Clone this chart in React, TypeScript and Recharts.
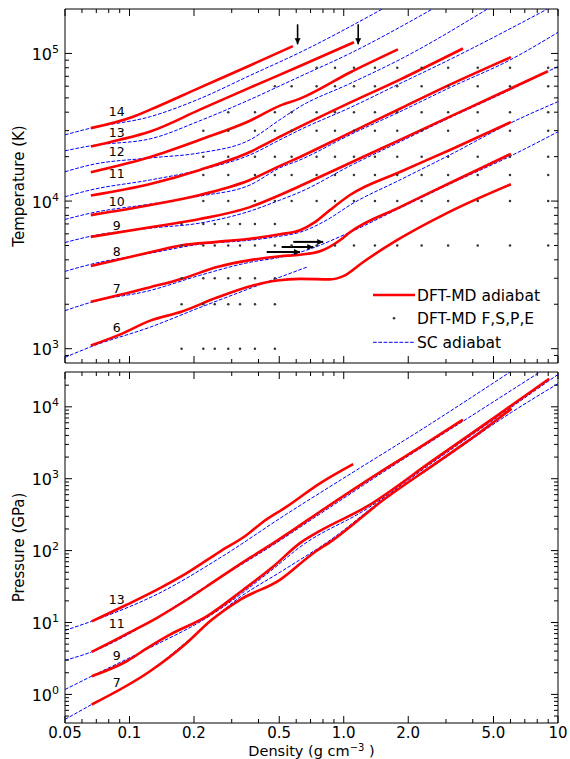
import React from "react";
import { ComposedChart, Line, Scatter, XAxis, YAxis, ReferenceArea } from "recharts";

type Pt = [number, number];
const FONT = "DejaVu Sans, sans-serif";
const RED = "#ff0000";
const BLUE = "#0000ff";

// ---------- Top panel: temperature (K) vs density (g/cc) ----------
const dftT6: Pt[] = [[0.066,1050],[0.09,1245],[0.125,1550],[0.176,1785],[0.256,2220],[0.377,2680],[0.488,2900],[0.625,2970],[0.862,2950],[1.013,3140],[1.229,3850],[1.771,5430],[3.03,8290],[6.03,13000]];
const dftT7: Pt[] = [[0.066,2080],[0.125,2610],[0.176,2980],[0.256,3570],[0.377,4010],[0.504,4230],[0.625,4330],[0.774,4570],[0.96,5430],[1.069,6150],[1.829,9100],[3.13,13260],[6.03,20900]];
const dftT8: Pt[] = [[0.066,3630],[0.125,4500],[0.176,5020],[0.256,5290],[0.365,5560],[0.504,5960],[0.625,6350],[0.734,7200],[0.862,8690],[1.069,11000],[1.829,15750],[3.13,22200],[6.03,34300]];
const dftT9: Pt[] = [[0.066,5720],[0.125,6650],[0.213,7550],[0.365,9100],[0.504,11000],[0.625,12650],[1.069,18100],[1.829,26000],[3.13,37300],[5.36,53500],[8.97,75800]];
const dftT10: Pt[] = [[0.066,8030],[0.125,9400],[0.213,10990],[0.365,13900],[0.504,17300],[0.625,19900],[1.069,29000],[1.829,42200],[3.13,61500],[6.03,94400]];
const dftT11: Pt[] = [[0.066,10900],[0.125,13050],[0.213,16250],[0.365,21500],[0.504,27300],[0.625,31900],[1.069,46400],[1.829,66500],[3.6,108000]];
const dftT12: Pt[] = [[0.066,15700],[0.125,19900],[0.213,26000],[0.365,35000],[0.504,44300],[0.625,49400],[1.069,74300],[1.79,106500]];
const dftT13: Pt[] = [[0.066,23400],[0.09,26000],[0.125,29600],[0.213,41600],[0.365,58700],[0.625,82200],[1.116,119000]];
const dftT14: Pt[] = [[0.066,31200],[0.104,37300],[0.125,41600],[0.213,58700],[0.365,82900],[0.579,112000]];

const scT6: Pt[] = [[0.05,873],[0.066,1030],[0.125,1400],[0.213,1900],[0.365,2560],[0.673,3570]];
const scT7: Pt[] = [[0.05,1810],[0.066,2060],[0.125,2480],[0.213,3140],[0.365,3850],[0.504,4160],[0.625,4500],[1.069,6150],[1.829,8960],[3.13,13050],[6.03,20240],[10,29470]];
const scT8: Pt[] = [[0.05,3340],[0.066,3730],[0.125,4430],[0.213,5100],[0.365,5430],[0.504,5780],[0.625,6150],[0.862,7660],[1.069,9390],[1.829,13900],[3.13,20550],[6.03,33900],[10,47150]];
const scT9: Pt[] = [[0.05,5240],[0.066,5780],[0.125,6550],[0.213,7090],[0.365,8550],[0.504,10160],[0.625,11500],[1.069,17300],[1.829,25200],[3.13,36700],[5.36,52600],[10,81600]];
const scT10: Pt[] = [[0.05,7510],[0.066,8290],[0.125,9540],[0.213,10800],[0.365,12850],[0.504,16800],[0.625,19000],[1.069,28100],[1.829,40300],[3.13,58700],[6.03,91000],[10,139000]];
const scT11: Pt[] = [[0.05,10700],[0.066,11900],[0.125,13900],[0.213,16250],[0.365,20550],[0.504,26000],[0.625,30400],[1.069,42900],[1.829,62500],[3.13,91000],[8.88,199000]];
const scT12: Pt[] = [[0.05,15800],[0.066,17600],[0.125,19600],[0.213,21200],[0.365,26000],[0.504,35600],[0.625,43600],[1.069,62500],[1.829,91000],[4.66,199000]];
const scT13: Pt[] = [[0.05,21900],[0.066,23700],[0.125,26400],[0.213,35000],[0.365,48700],[0.625,69800],[1.069,100000],[2.61,201000]];
const scT14: Pt[] = [[0.05,28100],[0.066,31200],[0.125,37300],[0.213,49400],[0.365,70900],[0.625,101600],[1.524,201000]];

// DFT-MD simulation grid (density per temperature row)
const rhoLow = [0.175, 0.221, 0.25, 0.289, 0.328, 0.385, 0.477];
const rhoMid = [0.221, 0.289, 0.385, 0.477, 0.571, 0.747, 0.91, 1.116, 1.398, 1.777, 2.31, 3.07, 4.22, 5.97, 9.0];
const rhoAll = [0.175, 0.221, 0.25, 0.289, 0.328, 0.385, 0.477, 0.571, 0.747, 0.91, 1.116, 1.398, 1.777, 2.31, 3.07, 4.22, 5.97, 9.0];
const rho40k = [0.289, 0.385, 0.477, 0.571, 0.747, 0.91, 1.116, 1.398, 1.777, 2.31, 3.07, 4.22, 5.97, 9.0];
const rho60k = [0.477, 0.571, 0.747, 0.91, 1.116, 1.398, 1.777, 2.31, 3.07, 4.22, 5.97, 9.0];
const rho80k = [0.747, 0.91, 1.116, 1.398, 1.777, 2.31, 3.07, 4.22, 5.97, 9.0];
const gridRows: [number, number[]][] = [
  [1000, rhoLow], [2000, rhoLow], [3000, rhoLow], [5000, rhoAll], [7000, rhoLow],
  [10000, rhoMid], [15000, rhoMid], [20000, rhoMid], [30000, rhoMid],
  [40000, rho40k], [60000, rho60k], [80000, rho80k],
];

const arrowDown1: Pt[] = [[0.609,157500],[0.609,115200]];
const arrowDown2: Pt[] = [[1.168,157500],[1.168,115200]];
const arrowRight1: Pt[] = [[0.437,4520],[0.625,4520]];
const arrowRight2: Pt[] = [[0.513,4890],[0.721,4890]];
const arrowRight3: Pt[] = [[0.581,5290],[0.802,5290]];

const labelsTop = ["14","13","12","11","10","9","8","7","6"];
const labelsTopT = [40500,29150,21640,15430,9890,6866,4520,2548,1396];
const labelRho = 0.0871;

// ---------- Bottom panel: pressure (GPa) vs density ----------
const dftP7: Pt[] = [[0.0666,0.724],[0.1246,2.1],[0.1849,5.2],[0.2374,10.4],[0.3278,20.7],[0.5039,39.2],[0.7206,92],[0.8933,141],[1.529,505],[2.616,1544],[3.745,3250],[6.07,9440]];
const dftP9: Pt[] = [[0.0666,1.79],[0.097,2.89],[0.1246,4.66],[0.1545,6.77],[0.2292,12.15],[0.3396,28.5],[0.4688,60],[0.6246,127],[0.7742,188],[1.279,408],[2.616,1811],[5.357,8050],[9.1,24600]];
const dftP11: Pt[] = [[0.0666,3.9],[0.1024,7.53],[0.1339,11.54],[0.1849,20.7],[0.2292,31.7],[0.3522,74.3],[0.4688,127],[0.5811,194],[0.7742,347],[1.529,1316],[2.35,2924],[3.6,6645]];
const dftP13: Pt[] = [[0.0666,10.36],[0.097,17.65],[0.1388,30.1],[0.1849,48.6],[0.2644,96.9],[0.3522,165],[0.4209,252],[0.5415,408],[0.7742,861],[1.107,1594]];

const scP7: Pt[] = [[0.05,0.449],[0.0666,0.724],[0.1246,2.1],[0.1849,5.4],[0.3278,22.5],[0.5039,50],[0.8933,150],[1.529,520],[2.616,1500],[6.074,8400],[10,21000]];
const scP9: Pt[] = [[0.05,1.17],[0.0666,1.79],[0.1246,4.46],[0.2292,11.6],[0.4688,55.7],[0.6246,112],[1.279,379],[2.616,1700],[5.357,7620],[10,28200]];
const scP11: Pt[] = [[0.05,2.98],[0.0666,3.9],[0.1339,11.6],[0.2292,32.4],[0.4688,120],[0.7742,323],[1.529,1234],[3.6,6290],[8.23,30400]];
const scP13: Pt[] = [[0.05,7.77],[0.0666,10.4],[0.1388,25.9],[0.2644,79.2],[0.5415,323],[1.107,1234],[2.524,5720],[5.965,30400]];

const labelsBot = ["13","11","9","7"];
const labelsBotP = [21.2,9.84,3.46,1.448];

// ---------- Axes ----------
const xMajor = [0.05, 0.1, 0.2, 0.5, 1, 2, 5, 10];
const xMajorText = ["0.05", "0.1", "0.2", "0.5", "1.0", "2.0", "5.0", "10"];
const xMinor = [0.06, 0.07, 0.08, 0.09, 0.3, 0.4, 0.6, 0.7, 0.8, 0.9, 3, 4, 6, 7, 8, 9];
const tMajor = [1e3, 1e4, 1e5];
const tMinor = [900, 2000, 3000, 4000, 5000, 6000, 7000, 8000, 9000, 20000, 30000, 40000, 50000, 60000, 70000, 80000, 90000];
const pMajor = [1, 10, 100, 1000, 10000];
const pMinor = [0.5, 0.6, 0.7, 0.8, 0.9, 2, 3, 4, 5, 6, 7, 8, 9, 20, 30, 40, 50, 60, 70, 80, 90, 200, 300, 400, 500, 600, 700, 800, 900, 2000, 3000, 4000, 5000, 6000, 7000, 8000, 9000, 20000];
const xDomain: [number, number] = [0.05, 10];
const tDomain: [number, number] = [800, 2e5];
const pDomain: [number, number] = [0.4, 3.05e4];

const PLOT_W = 493;
const TOP_PLOT_H = 354;
const BOT_PLOT_H = 351;

const toXY = (pts: Pt[]) => pts.map(([x, y]) => ({ x, y }));
const near = (a: number, b: number) => Math.abs(a - b) / b < 1e-6;

const makeXTick = (plotH: number, labels: boolean) => (props: any) => {
  const { x, y, payload } = props;
  const i = xMajor.findIndex((m) => near(payload.value, m));
  const len = i >= 0 ? 7 : 4;
  return (
    <g>
      <line x1={x} x2={x} y1={y} y2={y - len} stroke="#000" strokeWidth={1} />
      <line x1={x} x2={x} y1={y - plotH} y2={y - plotH + len} stroke="#000" strokeWidth={1} />
      {labels && i >= 0 ? (
        <text x={x} y={y + 14.5} textAnchor="middle" fontSize={15} fontFamily={FONT} fill="#000">
          {xMajorText[i]}
        </text>
      ) : null}
    </g>
  );
};

const makeYTick = (majors: number[]) => (props: any) => {
  const { x, y, payload } = props;
  const i = majors.findIndex((m) => near(payload.value, m));
  const len = i >= 0 ? 7 : 4;
  const exp = i >= 0 ? String(Math.round(Math.log10(majors[i]))) : "";
  return (
    <g>
      <line x1={x} x2={x + len} y1={y} y2={y} stroke="#000" strokeWidth={1} />
      <line x1={x + PLOT_W} x2={x + PLOT_W - len} y1={y} y2={y} stroke="#000" strokeWidth={1} />
      {i >= 0 ? (
        <text x={x - 6} y={y + 6.5} textAnchor="end" fontSize={16} fontFamily={FONT} fill="#000">
          <tspan>10</tspan>
          <tspan dy={-7} fontSize={11}>{exp}</tspan>
        </text>
      ) : null}
    </g>
  );
};

const arrowDot = (dir: "down" | "right") => (p: any) => {
  const k = `a${p.index}-${p.cx}-${p.cy}`;
  if (p.index !== 1) return <g key={k} />;
  const { cx, cy } = p;
  const d =
    dir === "down"
      ? `M${cx - 3},${cy - 6} L${cx + 3},${cy - 6} L${cx},${cy} Z`
      : `M${cx - 6},${cy - 3} L${cx - 6},${cy + 3} L${cx},${cy} Z`;
  return <path key={k} d={d} fill="#000" stroke="none" />;
};

const dotShape = (p: any) => <circle cx={p.cx} cy={p.cy} r={1.25} fill="#333" />;
const textShape = (p: any) => (
  <text x={p.cx} y={p.cy + 4.5} textAnchor="middle" fontSize={12.5} fontFamily={FONT} fill="#000">
    {p.payload.label}
  </text>
);

const redLine = (pts: Pt[], key: string) => (
  <Line key={key} data={toXY(pts)} dataKey="y" type="monotone" stroke={RED} strokeWidth={2.6}
    dot={false} activeDot={false} isAnimationActive={false} />
);
const blueLine = (pts: Pt[], key: string) => (
  <Line key={key} data={toXY(pts)} dataKey="y" type="monotone" stroke={BLUE} strokeWidth={1}
    strokeDasharray="3.7 1.6" dot={false} activeDot={false} isAnimationActive={false} />
);
const arrowLine = (pts: Pt[], key: string, dir: "down" | "right") => (
  <Line key={key} data={toXY(pts)} dataKey="y" type="linear" stroke="#000" strokeWidth={dir === "down" ? 1.6 : 2}
    dot={arrowDot(dir)} activeDot={false} isAnimationActive={false} />
);

export default function App() {
  const scTop = [scT6, scT7, scT8, scT9, scT10, scT11, scT12, scT13, scT14];
  const dftTop = [dftT6, dftT7, dftT8, dftT9, dftT10, dftT11, dftT12, dftT13, dftT14];
  const grid = gridRows.flatMap(([t, rhos]) => rhos.map((r) => ({ x: r, y: t })));
  const topLabels = labelsTop.map((l, i) => ({ x: labelRho, y: labelsTopT[i], label: l }));
  const botLabels = labelsBot.map((l, i) => ({ x: labelRho, y: labelsBotP[i], label: l }));
  const scBot = [scP7, scP9, scP11, scP13];
  const dftBot = [dftP7, dftP9, dftP11, dftP13];

  return (
    <div style={{ position: "absolute", left: 0, top: 0, width: 570, height: 759, background: "#fff" }}>
      <div style={{ position: "absolute", left: 0, top: 0 }}>
        <ComposedChart width={570} height={373} margin={{ top: 9, right: 12, bottom: 0, left: 0 }}>
          <XAxis dataKey="x" type="number" scale="log" domain={xDomain} allowDataOverflow
            ticks={[...xMajor, ...xMinor]} interval={0} height={10} axisLine={false} tickLine={false}
            tickSize={0} tickMargin={0} tick={makeXTick(TOP_PLOT_H, false)} />
          <YAxis dataKey="y" type="number" scale="log" domain={tDomain} allowDataOverflow
            ticks={[...tMajor, ...tMinor]} interval={0} width={65} axisLine={false} tickLine={false}
            tickSize={0} tickMargin={0} tick={makeYTick(tMajor)} />
          <ReferenceArea x1={xDomain[0]} x2={xDomain[1]} y1={tDomain[0]} y2={tDomain[1]}
            fill="none" fillOpacity={0} stroke="#000" strokeWidth={1} ifOverflow="visible" />
          {scTop.map((d, i) => blueLine(d, "sct" + i))}
          <Scatter data={grid} shape={dotShape} isAnimationActive={false} />
          {dftTop.map((d, i) => redLine(d, "dftt" + i))}
          {arrowLine(arrowDown1, "ad1", "down")}
          {arrowLine(arrowDown2, "ad2", "down")}
          {arrowLine(arrowRight1, "ar1", "right")}
          {arrowLine(arrowRight2, "ar2", "right")}
          {arrowLine(arrowRight3, "ar3", "right")}
          <Scatter data={topLabels} shape={textShape} isAnimationActive={false} />
        </ComposedChart>
      </div>
      <div style={{ position: "absolute", left: 0, top: 362 }}>
        <ComposedChart width={570} height={397} margin={{ top: 10, right: 12, bottom: 0, left: 0 }}>
          <XAxis dataKey="x" type="number" scale="log" domain={xDomain} allowDataOverflow
            ticks={[...xMajor, ...xMinor]} interval={0} height={36} axisLine={false} tickLine={false}
            tickSize={0} tickMargin={0} tick={makeXTick(BOT_PLOT_H, true)} />
          <YAxis dataKey="y" type="number" scale="log" domain={pDomain} allowDataOverflow
            ticks={[...pMajor, ...pMinor]} interval={0} width={65} axisLine={false} tickLine={false}
            tickSize={0} tickMargin={0} tick={makeYTick(pMajor)} />
          <ReferenceArea x1={xDomain[0]} x2={xDomain[1]} y1={pDomain[0]} y2={pDomain[1]}
            fill="none" fillOpacity={0} stroke="#000" strokeWidth={1} ifOverflow="visible" />
          {scBot.map((d, i) => blueLine(d, "scp" + i))}
          {dftBot.map((d, i) => redLine(d, "dftp" + i))}
          <Scatter data={botLabels} shape={textShape} isAnimationActive={false} />
        </ComposedChart>
      </div>
      <svg width={570} height={759} style={{ position: "absolute", left: 0, top: 0, pointerEvents: "none" }}>
        <text transform="translate(24,186) rotate(-90)" textAnchor="middle" fontSize={15} fontFamily={FONT} fill="#000">
          Temperature (K)
        </text>
        <text transform="translate(24,547.5) rotate(-90)" textAnchor="middle" fontSize={15} fontFamily={FONT} fill="#000">
          Pressure (GPa)
        </text>
        <text x={311.5} y={756} textAnchor="middle" fontSize={14.5} fontFamily={FONT} fill="#000">
          <tspan>Density (g cm</tspan>
          <tspan dy={-5} fontSize={10}>−3</tspan>
          <tspan dy={5}> )</tspan>
        </text>
        <line x1={373} x2={415} y1={295} y2={295} stroke={RED} strokeWidth={2.6} />
        <text x={417} y={300.5} fontSize={15.5} fontFamily={FONT} fill="#000">DFT-MD adiabat</text>
        <circle cx={394} cy={318.3} r={1.25} fill="#333" />
        <text x={417} y={323.8} fontSize={15.5} fontFamily={FONT} fill="#000">DFT-MD F,S,P,E</text>
        <line x1={373} x2={415} y1={342.3} y2={342.3} stroke={BLUE} strokeWidth={1} strokeDasharray="3.7 1.6" />
        <text x={417} y={347.8} fontSize={15.5} fontFamily={FONT} fill="#000">SC adiabat</text>
      </svg>
    </div>
  );
}
